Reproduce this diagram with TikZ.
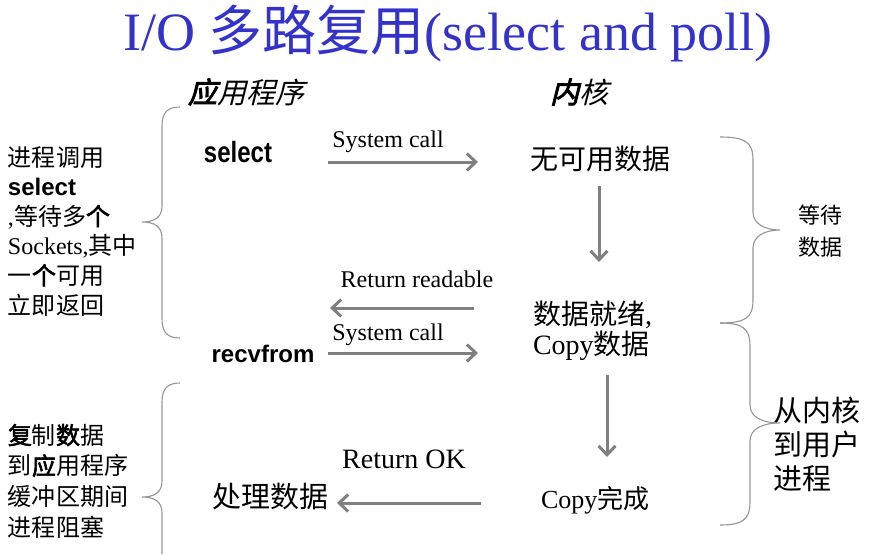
\documentclass[tikz,border=0pt]{standalone}
\usepackage{fontspec}
\setmainfont{Liberation Serif}
\newfontfamily\cjk{Noto Sans CJK SC}
\newfontfamily\cjkb{Noto Sans CJK SC}[FakeBold=2.5]
\newfontfamily\cjkit{Noto Sans CJK SC}[FakeSlant=0.25]
\newfontfamily\cjkitb{Noto Sans CJK SC}[FakeSlant=0.25,FakeBold=3]
\newfontfamily\arial{Liberation Sans}
\usetikzlibrary{arrows.meta}
\definecolor{titleblue}{RGB}{51,51,204}
\definecolor{arrowgray}{RGB}{128,128,128}
\definecolor{bracegray}{RGB}{150,150,150}
\newcommand{\fs}[2]{\fontsize{#1}{#2}\selectfont}
\tikzset{
  txt/.style={inner sep=0pt, outer sep=0pt, anchor=base},
  flow/.style={draw=arrowgray, line width=3pt,
    -{Straight Barb[length=9pt,width=17pt,line width=3pt]}},
  brace/.style={draw=bracegray, line width=1.1pt},
}
\begin{document}
\begin{tikzpicture}[x=1pt,y=-1pt]
\useasboundingbox (0,0) rectangle (885,554);

% title
\node[txt, text=titleblue, font=\fs{54}{60}] (title) at (448,50)
  {I/O {\cjk 多路复用}(select and poll)};

% column headings
\node[txt, font=\fs{29}{32}] (apphead) at (246,103) {{\cjkitb 应}{\cjkit 用程序}};
\node[txt, font=\fs{29}{32}] (kernhead) at (579,103) {{\cjkitb 内}{\cjkit 核}};

% application side
\node[txt, font=\fs{24}{28}\arial\bfseries] (select) at (238,162) {\scalebox{1}[1.22]{select}};
\node[txt, font=\fs{24}{28}\arial\bfseries] (recvfrom) at (263,362) {recvfrom};
\node[txt, font=\fs{29}{32}\cjk] (process) at (270,507) {处理数据};

% kernel side (multi-line nodes are placed by the baseline of their last line)
\node[txt, font=\fs{28}{32}\cjk] (nodata) at (600,169) {无可用数据};
\node[txt, anchor=base west, align=left, font=\fs{28}{30}] (ready) at (533,354)
  {{\cjk 数据就绪},\\Copy{\cjk 数据}};
\node[txt, anchor=base west, font=\fs{26}{30}] (done) at (541,508) {Copy{\cjk 完成}};

% arrow labels
\node[txt, font=\fs{24}{28}] (lsc1) at (388,147) {System call};
\node[txt, font=\fs{24}{28}] (lrr) at (417,287) {Return readable};
\node[txt, font=\fs{24}{28}] (lsc2) at (388,340) {System call};
\node[txt, font=\fs{28}{30}] (lok) at (404,468) {Return OK};

% arrow end points
\coordinate (a1s) at (328,162); \coordinate (a1e) at (478,162);
\coordinate (d1s) at (599,186); \coordinate (d1e) at (599,262);
\coordinate (a2s) at (474,308); \coordinate (a2e) at (330,308);
\coordinate (a3s) at (328,353); \coordinate (a3e) at (478,353);
\coordinate (d2s) at (607,375); \coordinate (d2e) at (607,457);
\coordinate (a4s) at (481,503); \coordinate (a4e) at (337,503);

\draw[flow] (a1s) -- (a1e);
\draw[flow] (d1s) -- (d1e);
\draw[flow] (a2s) -- (a2e);
\draw[flow] (a3s) -- (a3e);
\draw[flow] (d2s) -- (d2e);
\draw[flow] (a4s) -- (a4e);

% left notes
\node[txt, anchor=base west, align=left, font=\fs{24}{29.6}\cjk] (note1) at (8,314)
  {进程调用\\{\arial\bfseries select}\\{\rmfamily,}等待多{\cjkb 个}\\{\rmfamily Sockets,}其中\\一{\cjkb 个}可用\\立即返回};
\node[txt, anchor=base west, align=left, font=\fs{24}{30.6}\cjk] (note2) at (8,536)
  {{\cjkb 复}制{\cjkb 数}据\\到{\cjkb 应}用程序\\缓冲区期间\\进程阻塞};

% right notes
\node[txt, align=center, anchor=base, font=\fs{22}{32}\cjk] (wait) at (820,255)
  {等待\\数据};
\node[txt, align=left, anchor=base west, font=\fs{29}{34}\cjk] (copy) at (773,489)
  {从内核\\到用户\\进程};

% left braces
\draw[brace] (180,107) .. controls (168,107) and (162,112) .. (162,126)
  -- (162,206) .. controls (162,217) and (155,222) .. (142,222)
  .. controls (155,222) and (162,227) .. (162,238)
  -- (162,319) .. controls (162,333) and (168,338) .. (180,338);
\draw[brace] (180,383) .. controls (168,383) and (162,388) .. (162,402)
  -- (162,481) .. controls (162,492) and (155,497) .. (142,497)
  .. controls (155,497) and (162,502) .. (162,513)
  -- (162,554);

% right braces
\draw[brace] (720,137) .. controls (745,137) and (753,142) .. (753,160)
  -- (753,212) .. controls (753,224) and (765,230) .. (780,230)
  .. controls (765,230) and (753,236) .. (753,248)
  -- (753,300) .. controls (753,318) and (745,323) .. (720,323);
\draw[brace] (720,323) .. controls (742,323) and (750,328) .. (750,346)
  -- (750,405) .. controls (750,417) and (762,423) .. (780,423)
  .. controls (762,423) and (750,429) .. (750,441)
  -- (750,502) .. controls (750,520) and (742,525) .. (720,525);
\end{tikzpicture}
\end{document}
